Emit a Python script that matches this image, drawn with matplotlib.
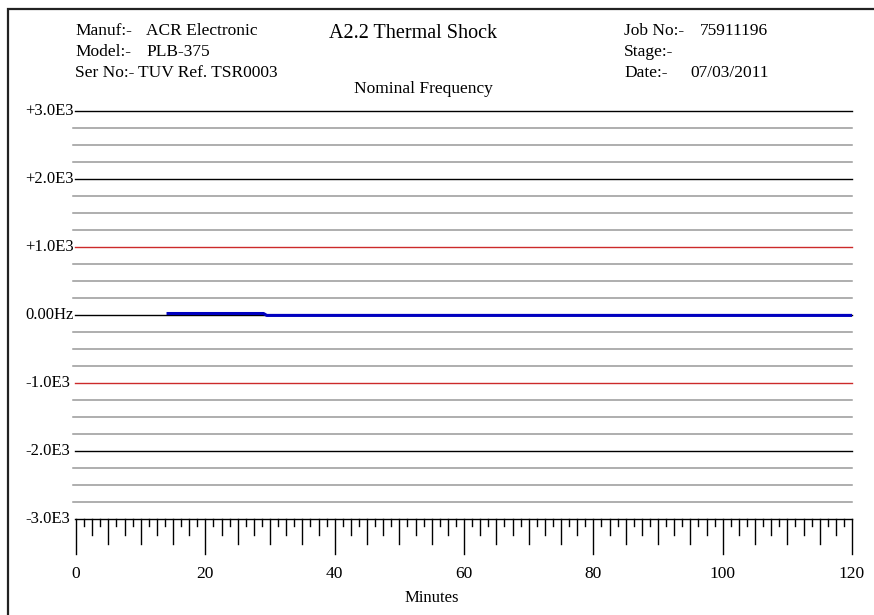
import numpy as np
import matplotlib.pyplot as plt
from matplotlib.patches import Rectangle

plt.rcParams['font.family'] = ['Liberation Serif', 'DejaVu Serif']

# header info
left_keys = ['Manuf:-', 'Model:-', 'Ser No:-']
left_vals = ['ACR Electronic', 'PLB-375', 'TUV Ref. TSR0003']
right_keys = ['Job No:-', 'Stage:-', 'Date:-']
right_vals = ['75911196', '', '07/03/2011']
title = 'A2.2 Thermal Shock'
subtitle = 'Nominal Frequency'

# y axis levels (Hz) and their labels
major_levels = [3000, 2000, 1000, 0, -1000, -2000, -3000]
major_labels = ['+3.0E3', '+2.0E3', '+1.0E3', '0.00Hz', '-1.0E3', '-2.0E3', '-3.0E3']
major_colors = ['black', 'black', '#cc2a2a', 'black', '#cc2a2a', 'black', 'black']
x_ticks = [0, 20, 40, 60, 80, 100, 120]

# measured frequency deviation
minutes = [14, 29, 29.5, 120]
freq = [22, 22, -6, -6]

W, H = 874, 615
fig = plt.figure(figsize=(W / 100, H / 100), dpi=100)
ax = fig.add_axes([76 / W, (H - 519) / H, 776 / W, 408 / H])
ax.set_xlim(0, 120)
ax.set_ylim(-3000, 3000)
ax.axis('off')

px = 6000 / 408      # Hz per pixel
pxm = 120 / 776      # minutes per pixel

# outer frame
fig.patches.append(Rectangle((8 / W, -0.1), 1.2, (H - 9) / H + 0.1, transform=fig.transFigure,
                             fill=False, edgecolor='#222222', linewidth=1.6))

# grid lines
for lvl in np.arange(-3000, 3001, 250):
    if lvl % 1000 != 0:
        ax.plot([-3 * pxm, 120], [lvl, lvl], color='#999999', lw=1.1, clip_on=False)
for lvl, lab, c in zip(major_levels, major_labels, major_colors):
    ax.plot([-1 * pxm, 120], [lvl, lvl], color=c, lw=1.0, clip_on=False)
    ax.text(-51 * pxm, lvl, lab, ha='left', va='center', fontsize=12, clip_on=False)

# minute ticks along the bottom
for t in np.arange(0, 120.01, 1.25):
    if t % 20 == 0:
        L = 35
    elif t % 5 == 0:
        L = 25
    elif t % 2.5 == 0:
        L = 16
    else:
        L = 7
    ax.plot([t, t], [-3000, -3000 - L * px], color='black', lw=1.0, clip_on=False)
for t in x_ticks:
    ax.text(t, -3000 - 55 * px, str(t), ha='center', va='center', fontsize=12.5, clip_on=False)
ax.text(55, -3000 - 79 * px, 'Minutes', ha='center', va='center', fontsize=12, clip_on=False)

# frequency trace
ax.plot(minutes, freq, color='#0000c0', lw=2.2, clip_on=False, solid_capstyle='butt')

# header text
for i, (k, v) in enumerate(zip(left_keys, left_vals)):
    y = 1 - (31 + 21 * i) / H
    fig.text(75 / W, y, k, ha='left', va='center', fontsize=12.5)
    fig.text((146 if i < 2 else 138) / W, y, v, ha='left', va='center', fontsize=12.5)
for i, (k, v) in enumerate(zip(right_keys, right_vals)):
    y = 1 - (31 + 21 * i) / H
    fig.text(624 / W, y, k, ha='left', va='center', fontsize=12.5)
    fig.text((700 if i == 0 else 690) / W, y, v, ha='left', va='center', fontsize=12.5)
fig.text(413 / W, 1 - 34 / H, title, ha='center', va='center', fontsize=14.5)
fig.text(423 / W, 1 - 89 / H, subtitle, ha='center', va='center', fontsize=12.5)

fig.savefig('out.png', dpi=100)
